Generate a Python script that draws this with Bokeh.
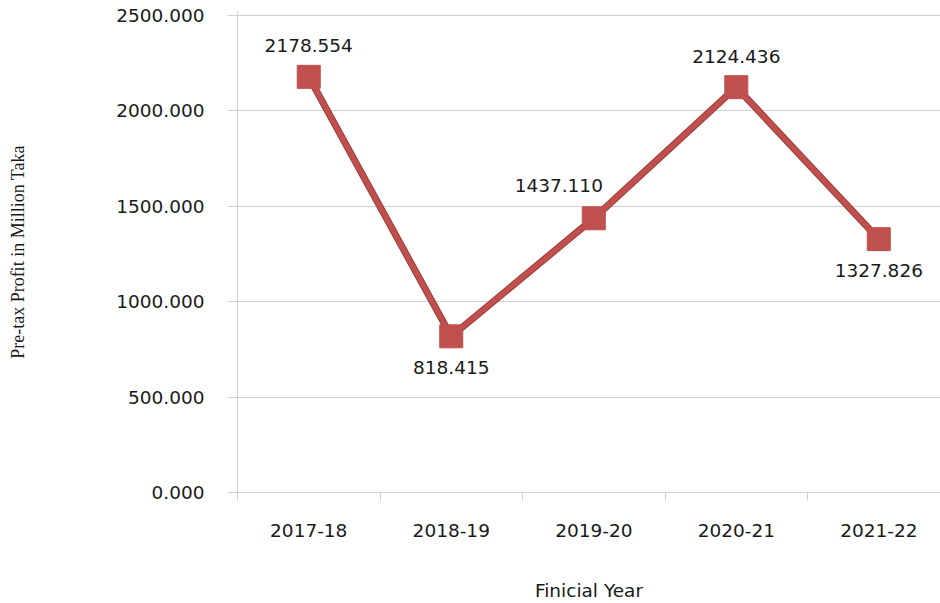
from bokeh.plotting import figure
from bokeh.models import (Range1d, FixedTicker, CustomJSTickFormatter,
                          NumeralTickFormatter, ColumnDataSource, LabelSet)
from bokeh.core.properties import value
from bokeh.embed import file_html
from bokeh.resources import INLINE

# ---- data ----
years = ["2017-18", "2018-19", "2019-20", "2020-21", "2021-22"]
profit = [2178.554, 818.415, 1437.110, 2124.436, 1327.826]
y_ticks = [0, 500, 1000, 1500, 2000, 2500]
label_pos = ["above", "below", "above-left", "above", "below"]

# ---- style ----
RED = "#C0504D"
DARK_RED = "#9E3E3B"
GRID = "#D0D0D0"
TXT = "#1a1a1a"
SANS = "DejaVu Sans"
FS = "18.5px"
offsets = {"above": (0, 31), "below": (0, -31), "above-left": (-35, 33)}

n = len(years)
xs = [i + 0.5 for i in range(n)]
src = ColumnDataSource(dict(
    x=xs, y=profit,
    lab=[f"{v:.3f}" for v in profit],
    xo=[offsets[k][0] for k in label_pos],
    yo=[offsets[k][1] for k in label_pos],
))

p = figure(width=940, height=603, output_backend="svg", toolbar_location=None,
           x_range=Range1d(0, 4.933), y_range=Range1d(0, 2521),
           min_border_left=237, min_border_right=0, min_border_top=11,
           min_border_bottom=110)
p.outline_line_color = None
p.background_fill_color = "white"
p.border_fill_color = "white"

# x axis
xa = p.xaxis[0]
xa.ticker = FixedTicker(ticks=xs, minor_ticks=list(range(n + 1)))
xa.formatter = CustomJSTickFormatter(args=dict(cats=years),
                                     code="return cats[Math.floor(tick)];")
xa.major_tick_out = 0
xa.major_tick_in = 0
xa.minor_tick_out = 8
xa.minor_tick_in = 0
xa.minor_tick_line_color = GRID
xa.axis_line_color = GRID
xa.major_label_standoff = 23
xa.major_label_text_font = SANS
xa.major_label_text_font_size = FS
xa.major_label_text_color = TXT
xa.axis_label = "Finicial Year"
xa.axis_label_text_font = SANS
xa.axis_label_text_font_size = FS
xa.axis_label_text_font_style = "normal"
xa.axis_label_text_color = TXT
xa.axis_label_standoff = 40

# y axis
ya = p.yaxis[0]
ya.ticker = FixedTicker(ticks=y_ticks)
ya.formatter = NumeralTickFormatter(format="0.000")
ya.major_tick_out = 10
ya.major_tick_in = 0
ya.minor_tick_line_color = None
ya.major_tick_line_color = GRID
ya.axis_line_color = GRID
ya.major_label_standoff = 23
ya.major_label_text_font = SANS
ya.major_label_text_font_size = FS
ya.major_label_text_color = TXT
ya.axis_label = "Pre-tax Profit in Million Taka"
ya.axis_label_text_font = "Liberation Serif"
ya.axis_label_text_font_size = "18px"
ya.axis_label_text_font_style = "normal"
ya.axis_label_text_color = TXT
ya.axis_label_standoff = 85

p.xgrid.grid_line_color = None
p.ygrid.grid_line_color = GRID
p.ygrid.grid_line_width = 1

# series
p.line("x", "y", source=src, line_color=DARK_RED, line_width=7)
p.line("x", "y", source=src, line_color=RED, line_width=5)
p.scatter("x", "y", source=src, marker="square", size=23,
          fill_color=RED, line_color=RED)

labels = LabelSet(x="x", y="y", text="lab", source=src,
                  x_offset="xo", y_offset="yo",
                  text_align="center", text_baseline="middle",
                  text_font=value(SANS), text_font_size=FS,
                  text_color=TXT)
p.add_layout(labels)

open("out.html", "w").write(file_html(p, INLINE))
